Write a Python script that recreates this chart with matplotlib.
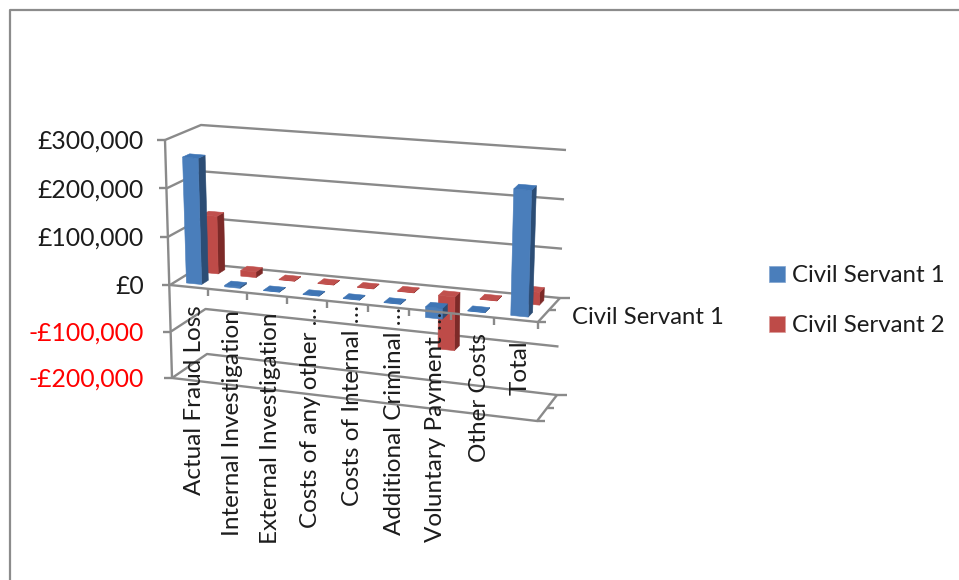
"""Civil servant fraud costs as a 3-D style clustered column chart."""

import numpy as np
import matplotlib
matplotlib.use("Agg")
import matplotlib.pyplot as plt
from matplotlib.patches import Patch, Polygon

plt.rcParams["font.family"] = ["Lato", "DejaVu Sans"]

categories = ["Actual Fraud Loss", "Internal Investigation", "External Investigation",
              "Costs of any other …", "Costs of Internal …", "Additional Criminal …",
              "Voluntary Payment …", "Other Costs", "Total"]
servant_1 = [262000, 3000, 1000, 1000, 1000, 1000, -22000, 1000, 257000]
servant_2 = [122000, 12000, 1000, 1000, 1000, 1000, -112000, 1000, 26000]
series_names = ["Civil Servant 1", "Civil Servant 2"]
value_ticks = [-200000, -100000, 0, 100000, 200000, 300000]
tick_labels = ["-£200,000", "-£100,000", "£0", "£100,000", "£200,000", "£300,000"]

# screen position of the plot box corners at the bottom, zero and top levels
LEVELS = [-200000, 0, 300000]
FRONT_LEFT = [(172, 378), (170, 285), (165, 140)]
FRONT_RIGHT = [(537, 421), (538, 322), (542, 174)]
BACK_LEFT = [(207, 354), (204, 264), (201, 125)]
BACK_RIGHT = [(557, 395), (560, 298), (566, 150)]
FORESHORTEN = 0.927

LABEL_X = [194.5, 232.5, 270.5, 310.5, 352.5, 394.5, 435.5, 479.5, 520.5]
LABEL_TOP = [305, 310, 313, 307, 305, 307, 312, 333, 340]

GREY = "#8a8a8a"
TEXT = "#1c1c1c"
N = len(categories)


def corner(points, v):
    return np.array([np.interp(v, LEVELS, [p[0] for p in points]),
                     np.interp(v, LEVELS, [p[1] for p in points])])


def project(c, d, v):
    """c: category position 0..N, d: depth 0..1, v: value -> screen x, y."""
    u = c / N
    u = FORESHORTEN * u / (1 + (FORESHORTEN - 1) * u)
    front = (1 - u) * corner(FRONT_LEFT, v) + u * corner(FRONT_RIGHT, v)
    back = (1 - u) * corner(BACK_LEFT, v) + u * corner(BACK_RIGHT, v)
    return tuple((1 - d) * front + d * back)


def line(ax, pts, z=2, lw=1.7):
    xs, ys = zip(*pts)
    ax.plot(xs, ys, color=GREY, lw=lw, zorder=z, solid_capstyle="butt")


def column(ax, i, d0, d1, v, colors, z):
    c0, c1 = i + 0.3, i + 0.7
    top = max(v, 0)
    front_col, side_col, top_col = colors
    faces = [
        ([(c1, d0, 0), (c1, d1, 0), (c1, d1, v), (c1, d0, v)], side_col),
        ([(c0, d0, 0), (c1, d0, 0), (c1, d0, v), (c0, d0, v)], front_col),
        ([(c0, d0, top), (c1, d0, top), (c1, d1, top), (c0, d1, top)], top_col),
    ]
    for face, col in faces:
        ax.add_patch(Polygon([project(*p) for p in face], closed=True,
                             facecolor=col, edgecolor=col, lw=0.4, zorder=z))


fig = plt.figure(figsize=(9.59, 5.80), dpi=100)
ax = fig.add_axes([0, 0, 1, 1])
ax.set_xlim(0, 959)
ax.set_ylim(580, 0)
ax.axis("off")

# outer chart border, runs off the right and bottom of the canvas
ax.plot([9.5, 9.5, 959], [580, 10, 10], color="#8c8c8c", lw=1.6, zorder=1)

# walls and gridlines
for v, lab in zip(value_ticks, tick_labels):
    line(ax, [project(0, 0, v), project(0, 1, v), project(N, 1, v)])
    x, y = project(0, 0, v)
    line(ax, [(x - 8, y), (x, y)])
    ax.text(144, y + 1.5, lab, ha="right", va="center", fontsize=17.8,
            color="#ff0000" if v < 0 else TEXT, zorder=6)
line(ax, [project(0, 0, value_ticks[0]), project(0, 0, value_ticks[-1])])

# floor of the zero plane and bottom plane
line(ax, [project(0, 0, -200000), project(N, 0, -200000), project(N, 1, -200000)])
line(ax, [project(N, 0, 0), project(N, 1, 0)])
for v in (0, -200000):
    for d, ext in ((0, 8), (0.5, 7), (1, 10)):
        x, y = project(N, d, v)
        line(ax, [(x, y), (x + ext, y)])

# columns, back row first
blue = ("#4a7ebb", "#2c4d75", "#3f75b5")
red = ("#be4b48", "#7d2a28", "#c0504d")
for i in range(N):
    column(ax, i, 0.65, 0.85, servant_2[i], red, 3)
for i in range(N):
    column(ax, i, 0.15, 0.35, servant_1[i], blue, 4)

# front edge of the zero plane sits over the columns
line(ax, [project(0, 0, 0), project(N, 0, 0)], z=5)
for i in range(1, N + 1):
    x, y = project(i, 0, 0)
    line(ax, [(x, y), (x, y + 7)], z=5)

for name, x, top in zip(categories, LABEL_X, LABEL_TOP):
    ax.text(x, top, name, rotation=90, ha="center", va="top", fontsize=17.5,
            color=TEXT, zorder=6)
ax.text(572, 318, series_names[0], ha="left", va="center", fontsize=17.2,
        color=TEXT, zorder=6)

handles = [Patch(facecolor=blue[0], edgecolor="#7fa3d0", lw=0.5, label=series_names[0]),
           Patch(facecolor=red[0], edgecolor="#dc9a98", lw=0.5, label=series_names[1])]
ax.legend(handles=handles, loc="upper left", bbox_to_anchor=(769, 265.5),
          bbox_transform=ax.transData, frameon=False, fontsize=17.3, labelcolor=TEXT,
          borderpad=0, borderaxespad=0, handlelength=0.66, handleheight=0.66,
          handletextpad=0.3, labelspacing=1.2)

fig.savefig("out.png", dpi=100)
